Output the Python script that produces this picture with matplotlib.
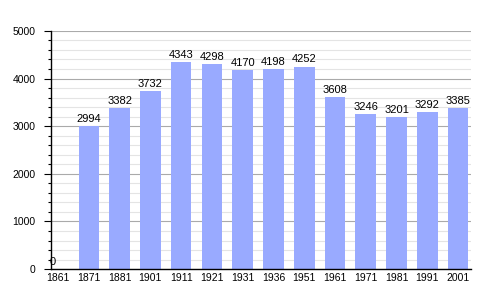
import matplotlib
matplotlib.use("Agg")
import matplotlib.pyplot as plt
from matplotlib.ticker import MultipleLocator

years = ["1861", "1871", "1881", "1901", "1911", "1921", "1931", "1936",
         "1951", "1961", "1971", "1981", "1991", "2001"]
population = [0, 2994, 3382, 3732, 4343, 4298, 4170, 4198, 4252, 3608,
              3246, 3201, 3292, 3385]

plt.rcParams['font.family'] = ['Liberation Sans', 'DejaVu Sans']

fig = plt.figure(figsize=(5, 3), dpi=100)
ax = fig.add_axes([0.102, 0.103, 0.840, 0.794])

x = list(range(len(years)))
ax.bar(x, population, width=0.67, color='#99aaff', zorder=2)

for xi, v in zip(x, population):
    dx = -4 if v == 0 else 0
    ax.annotate(str(v), (xi, v), xytext=(dx, 1.5), textcoords='offset points',
                ha='center', va='bottom', fontsize=8, color='black', zorder=3)

ax.set_xlim(-0.23, 13.42)
ax.set_ylim(0, 5000)
ax.set_xticks(x)
ax.set_xticklabels(years, fontsize=7.5)
ax.yaxis.set_major_locator(MultipleLocator(1000))
ax.yaxis.set_minor_locator(MultipleLocator(200))
ax.tick_params(axis='y', which='major', length=5, width=0.8, labelsize=7.5, pad=6)
ax.tick_params(axis='y', which='minor', length=2.5, width=0.8)
ax.tick_params(axis='x', length=0, pad=3)

ax.grid(axis='y', which='major', color='#aaaaaa', linewidth=0.8, zorder=0)
ax.grid(axis='y', which='minor', color='#e4e4e4', linewidth=0.8, zorder=0)
ax.set_axisbelow(True)

for s in ['top', 'right']:
    ax.spines[s].set_visible(False)
ax.spines['left'].set_linewidth(1.0)
ax.spines['bottom'].set_linewidth(1.0)

fig.savefig('out.png', dpi=100)
